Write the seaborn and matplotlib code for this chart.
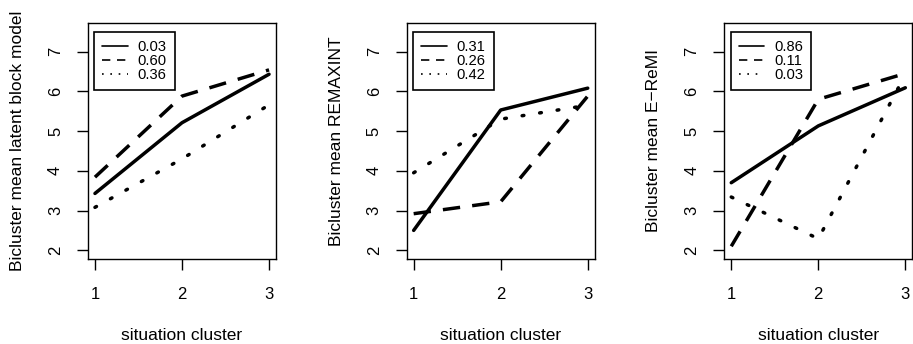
import matplotlib
matplotlib.use("Agg")
import matplotlib.pyplot as plt
from matplotlib.lines import Line2D
import seaborn as sns
import pandas as pd

# situation clusters on the x axis
clusters = [1, 2, 3]

# panel 1: latent block model
lbm_labels = ["0.03", "0.60", "0.36"]
lbm_solid = [3.43, 5.21, 6.43]
lbm_dashed = [3.84, 5.88, 6.54]
lbm_dotted = [3.08, 4.30, 5.66]

# panel 2: REMAXINT
rem_labels = ["0.31", "0.26", "0.42"]
rem_solid = [2.50, 5.53, 6.08]
rem_dashed = [2.92, 3.22, 5.88]
rem_dotted = [3.95, 5.30, 5.65]

# panel 3: E-ReMI
ereml_labels = ["0.86", "0.11", "0.03"]
ereml_solid = [3.70, 5.13, 6.09]
ereml_dashed = [2.10, 5.80, 6.45]
ereml_dotted = [3.34, 2.29, 6.42]

ylabels = ["Bicluster mean latent block model",
           "Bicluster mean REMAXINT",
           "Bicluster mean E\u2212ReMI"]

sns.set_style("ticks")
plt.rcParams["font.family"] = ["Liberation Sans", "DejaVu Sans"]
plt.rcParams["text.color"] = "black"
plt.rcParams["axes.labelcolor"] = "black"
plt.rcParams["xtick.color"] = "black"
plt.rcParams["ytick.color"] = "black"

fig = plt.figure(figsize=(9.13, 3.44), dpi=100)
lefts = [88 / 913, 406.7 / 913, 724.3 / 913]
width = 188 / 913
bottom = 1 - 259 / 344
height = 236 / 344

# solid, dashed, dotted (R lty 1, 2, 3)
dash_styles = ["-", (0, (5, 3.5)), (0, (0.5, 4.6))]
panels = [
    (lbm_labels, [lbm_solid, lbm_dashed, lbm_dotted]),
    (rem_labels, [rem_solid, rem_dashed, rem_dotted]),
    (ereml_labels, [ereml_solid, ereml_dashed, ereml_dotted]),
]

for i, (labels, series) in enumerate(panels):
    ax = fig.add_axes([lefts[i], bottom, width, height])
    for j, (vals, ls) in enumerate(zip(series, dash_styles)):
        df = pd.DataFrame({"x": clusters, "y": vals})
        sns.lineplot(data=df, x="x", y="y", ax=ax, color="black", linewidth=2.5)
        ln = ax.lines[-1]
        ln.set_linestyle(ls)
        ln.set_dash_capstyle("round" if j == 2 else "butt")

    ax.set_xlim(0.92, 3.08)
    ax.set_ylim(1.78, 7.72)
    ax.set_xticks(clusters)
    ax.set_yticks([2, 3, 4, 5, 6, 7])
    ax.tick_params(axis="x", pad=12)
    ax.tick_params(axis="y", pad=10)
    ax.tick_params(axis="both", direction="out", length=8, width=1,
                   labelsize=12, color="black", labelcolor="black")
    for lab in ax.get_yticklabels():
        lab.set_rotation(90)
        lab.set_va("center")
    for sp in ax.spines.values():
        sp.set_visible(True)
        sp.set_color("black")
        sp.set_linewidth(1)
    ax.set_xlabel("situation cluster", fontsize=12.5)
    ax.set_ylabel(ylabels[i], fontsize=12.5)
    ax.xaxis.set_label_coords(0.5, -0.293)
    ax.yaxis.set_label_coords(-0.335, 0.5)

    handles = [Line2D([], [], color="black", linewidth=1.2, linestyle="-"),
               Line2D([], [], color="black", linewidth=1.2, linestyle=(0, (5, 4))),
               Line2D([], [], color="black", linewidth=1.2, linestyle=(0, (1, 4)))]
    leg = ax.legend(handles, labels, loc="upper left", fontsize=10.6,
                    frameon=True, fancybox=False, framealpha=1,
                    edgecolor="black", handlelength=1.75, handletextpad=0.65,
                    borderpad=0.55, labelspacing=0.0, borderaxespad=0,
                    bbox_to_anchor=(0.0335, 0.9606))
    leg.get_frame().set_linewidth(1.2)

fig.savefig("out.png", dpi=100)
